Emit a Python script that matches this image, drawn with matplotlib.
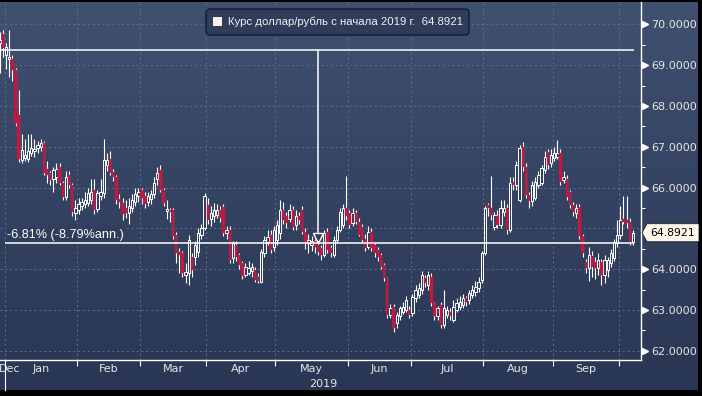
import numpy as np
import pandas as pd
import matplotlib
matplotlib.use('Agg')
import matplotlib.pyplot as plt
from matplotlib.colors import LinearSegmentedColormap
from matplotlib.patches import FancyBboxPatch, Rectangle, Polygon
import matplotlib.transforms as mtrans

# торговые дни (будни) с конца декабря 2018 по 7 октября 2019
dates = pd.bdate_range('2018-12-28', '2019-10-07')

opens = [
    69.55, 69.77, 69.25, 69.16, 69.16, 68.88, 67.78, 66.67, 66.72, 66.70,
    66.85, 66.90, 66.98, 67.00, 67.08, 66.45, 66.35, 66.22, 66.25, 66.50,
    66.10, 65.77, 66.30, 66.06, 65.38, 65.45, 65.55, 65.60, 65.62, 65.70,
    65.94, 65.48, 65.80, 65.86, 66.55, 66.70, 66.38, 66.26, 65.72, 65.61,
    65.50, 65.38, 65.50, 65.65, 65.80, 65.95, 65.80, 65.65, 65.72, 65.85,
    66.20, 66.43, 65.94, 65.42, 65.45, 65.45, 64.84, 64.43, 64.39, 63.86,
    63.90, 64.30, 64.30, 64.43, 64.84, 65.00, 65.57, 65.24, 65.29, 65.33,
    65.45, 65.53, 64.88, 64.96, 64.26, 64.59, 64.35, 64.14, 63.86, 63.90,
    63.95, 63.98, 63.80, 63.69, 64.39, 64.67, 64.84, 64.55, 64.71, 64.88,
    65.45, 65.29, 65.24, 65.45, 65.08, 65.29, 65.45, 64.92, 64.63, 64.60,
    64.70, 64.59, 64.51, 64.35, 64.92, 64.51, 64.35, 64.71, 64.96, 65.08,
    65.49, 65.37, 65.12, 65.37, 65.16, 65.04, 64.75, 64.55, 64.92, 64.59,
    64.47, 64.35, 64.10, 63.77, 62.88, 63.08, 62.67, 62.84, 62.96, 63.00,
    63.00, 62.92, 63.28, 63.37, 63.49, 63.77, 63.61, 63.81, 63.16, 62.84,
    63.12, 62.63, 62.88, 62.96, 62.75, 63.00, 63.08, 63.12, 63.28, 63.24,
    63.37, 63.45, 63.53, 63.73, 64.39, 65.57, 65.49, 65.04, 65.29, 65.08,
    65.41, 65.49, 64.96, 66.14, 66.06, 65.70, 67.00, 66.51, 65.82, 65.66,
    65.74, 66.06, 66.10, 66.43, 66.88, 66.59, 66.72, 66.76, 66.84, 66.18,
    66.22, 65.90, 65.57, 65.37, 65.53, 64.80, 64.18, 64.02, 64.31, 64.18,
    64.02, 64.18, 63.86, 63.98, 64.14, 64.26, 64.63, 64.84, 65.24, 65.20,
    65.16, 64.67,
]
highs = [
    69.80, 69.87, 69.55, 69.87, 69.25, 68.92, 68.40, 67.30, 67.20, 67.30,
    67.30, 67.20, 67.15, 67.20, 67.15, 66.65, 66.40, 66.50, 66.60, 66.60,
    66.15, 66.40, 66.40, 66.10, 65.70, 65.75, 65.75, 65.90, 66.00, 66.20,
    66.20, 65.95, 66.20, 67.20, 66.85, 66.90, 66.45, 66.30, 65.85, 65.75,
    65.70, 65.75, 65.85, 65.98, 66.00, 66.00, 65.90, 65.90, 65.95, 66.25,
    66.50, 66.55, 66.00, 65.69, 65.50, 65.50, 64.90, 64.51, 64.45, 64.14,
    64.84, 64.40, 64.70, 65.00, 65.10, 65.86, 65.75, 65.55, 65.63, 65.60,
    65.55, 65.60, 65.05, 65.05, 64.70, 64.70, 64.40, 64.20, 64.15, 64.20,
    64.15, 64.05, 63.90, 64.50, 64.80, 64.95, 64.95, 65.05, 65.20, 65.70,
    65.65, 65.40, 65.60, 65.55, 65.45, 65.40, 65.55, 65.00, 64.85, 64.80,
    64.75, 64.70, 64.60, 64.95, 65.00, 64.60, 64.80, 65.05, 65.50, 65.60,
    66.27, 65.45, 65.50, 65.45, 65.25, 65.10, 64.85, 65.05, 65.00, 64.65,
    64.55, 64.40, 64.15, 63.80, 63.15, 63.15, 62.95, 63.10, 63.20, 63.35,
    63.10, 63.40, 63.60, 63.65, 63.95, 63.85, 63.95, 63.90, 63.20, 63.10,
    63.20, 63.50, 63.10, 63.05, 63.25, 63.30, 63.35, 63.40, 63.35, 63.50,
    63.60, 63.70, 63.80, 64.45, 65.55, 65.62, 66.27, 65.40, 65.45, 65.70,
    65.70, 65.60, 66.25, 66.25, 66.65, 67.05, 67.12, 66.60, 65.90, 66.15,
    66.25, 66.40, 66.55, 66.90, 66.95, 66.95, 67.00, 67.16, 66.95, 66.40,
    66.30, 65.95, 65.65, 65.60, 65.60, 64.85, 64.25, 64.55, 64.45, 64.30,
    64.40, 64.25, 64.35, 64.30, 64.50, 64.75, 65.20, 65.55, 65.80, 65.80,
    65.25, 64.95,
]
lows = [
    68.80, 69.20, 68.90, 68.70, 68.60, 67.50, 66.62, 66.60, 66.65, 66.62,
    66.78, 66.75, 66.85, 66.90, 66.30, 66.10, 66.05, 65.90, 66.10, 66.05,
    65.70, 65.70, 66.00, 65.30, 65.20, 65.35, 65.45, 65.50, 65.55, 65.60,
    65.35, 65.40, 65.70, 65.75, 66.40, 66.30, 66.15, 65.60, 65.50, 65.20,
    65.25, 65.10, 65.40, 65.55, 65.65, 65.60, 65.50, 65.55, 65.60, 65.75,
    66.05, 65.90, 65.55, 65.24, 65.15, 64.75, 64.15, 63.90, 63.80, 63.65,
    63.61, 63.80, 64.10, 64.30, 64.75, 64.95, 65.10, 65.05, 65.15, 65.25,
    65.15, 64.80, 64.75, 64.15, 64.15, 64.20, 64.00, 63.75, 63.80, 63.85,
    63.80, 63.68, 63.65, 63.65, 64.30, 64.60, 64.40, 64.45, 64.60, 64.75,
    65.10, 65.00, 65.15, 64.95, 64.95, 65.10, 64.85, 64.50, 64.40, 64.45,
    64.40, 64.35, 64.22, 64.30, 64.40, 64.30, 64.30, 64.65, 64.90, 65.00,
    65.20, 65.00, 65.05, 65.10, 64.80, 64.65, 64.45, 64.50, 64.45, 64.30,
    64.20, 64.00, 63.70, 62.80, 62.80, 62.45, 62.55, 62.75, 62.90, 62.95,
    62.80, 62.85, 63.20, 63.30, 63.40, 63.55, 63.50, 63.10, 62.75, 62.75,
    62.55, 62.55, 62.80, 62.75, 62.70, 62.95, 63.00, 63.05, 63.10, 63.15,
    63.30, 63.35, 63.45, 63.65, 64.35, 65.30, 65.20, 64.95, 65.00, 65.00,
    65.30, 64.85, 64.90, 65.95, 65.95, 65.65, 66.40, 65.75, 65.50, 65.55,
    65.70, 66.00, 66.05, 66.35, 66.45, 66.50, 66.65, 66.70, 66.05, 66.10,
    65.70, 65.50, 65.30, 65.25, 64.75, 64.30, 63.90, 63.70, 63.80, 63.75,
    63.85, 63.60, 63.65, 63.80, 64.05, 64.20, 64.55, 64.75, 65.10, 65.00,
    64.60, 64.60,
]
closes = [
    69.62, 69.41, 69.44, 69.21, 68.88, 67.57, 66.71, 66.92, 66.80, 66.90,
    66.96, 66.95, 67.05, 67.08, 66.35, 66.30, 66.18, 66.43, 66.45, 66.10,
    65.77, 66.26, 66.06, 65.41, 65.49, 65.60, 65.65, 65.70, 65.86, 65.90,
    65.45, 65.86, 65.90, 66.67, 66.67, 66.35, 66.26, 65.69, 65.65, 65.36,
    65.38, 65.55, 65.70, 65.85, 65.90, 65.75, 65.60, 65.80, 65.85, 66.10,
    66.35, 65.94, 65.62, 65.48, 65.40, 64.80, 64.39, 64.35, 63.90, 63.94,
    64.71, 63.98, 64.59, 64.88, 65.00, 65.78, 65.20, 65.37, 65.45, 65.45,
    65.25, 64.88, 64.96, 64.22, 64.63, 64.30, 64.10, 63.82, 64.06, 64.02,
    64.05, 63.73, 63.70, 64.43, 64.71, 64.79, 64.47, 64.96, 65.08, 65.45,
    65.20, 65.12, 65.45, 65.04, 65.29, 65.20, 64.92, 64.63, 64.71, 64.70,
    64.55, 64.43, 64.35, 64.88, 64.47, 64.39, 64.71, 64.96, 65.41, 65.49,
    65.29, 65.08, 65.37, 65.16, 64.84, 64.71, 64.51, 64.92, 64.51, 64.39,
    64.30, 64.06, 63.77, 62.88, 63.04, 62.55, 62.88, 63.04, 63.08, 63.24,
    62.88, 63.32, 63.49, 63.53, 63.85, 63.65, 63.85, 63.16, 62.84, 63.04,
    62.63, 63.04, 63.00, 62.84, 63.08, 63.16, 63.20, 63.28, 63.20, 63.41,
    63.49, 63.57, 63.69, 64.39, 65.49, 65.49, 65.33, 65.33, 65.08, 65.49,
    65.49, 64.96, 66.10, 66.06, 66.55, 66.96, 66.51, 65.82, 65.66, 66.06,
    66.14, 66.31, 66.47, 66.76, 66.55, 66.80, 66.84, 66.84, 66.14, 66.26,
    65.77, 65.57, 65.41, 65.49, 64.80, 64.39, 64.02, 64.35, 64.06, 64.02,
    64.22, 63.86, 64.22, 64.22, 64.39, 64.67, 64.84, 65.20, 65.16, 65.12,
    64.67, 64.8921,
]

month_names = ['Dec', 'Jan', 'Feb', 'Mar', 'Apr', 'May', 'Jun', 'Jul', 'Aug', 'Sep']
y_ticks = [62, 63, 64, 65, 66, 67, 68, 69, 70]
start_level = 69.37   # уровень начала измерения
end_level = 64.645    # уровень конца измерения
change_label = '-6.81% (-8.79%ann.)'
legend_label = 'Курс доллар/рубль с начала 2019 г.  64.8921'
last_label = '64.8921'

W, H = 702, 396
plt.rcParams['font.family'] = ['DejaVu Sans']
fig = plt.figure(figsize=(W / 100, H / 100), dpi=100, facecolor='black')


def fit_width(t, px):
    # подогнать размер шрифта под ширину текста в пикселях
    fig.canvas.draw()
    w = t.get_window_extent().width
    t.set_fontsize(t.get_fontsize() * px / w)


# фон - градиент
bg = fig.add_axes([0, 6 / H, 698 / W, 1 - 8 / H])
grad = np.linspace(0, 1, 256).reshape(-1, 1)
cmap = LinearSegmentedColormap.from_list('bg', ['#293654', '#40506f'])
bg.imshow(grad, aspect='auto', cmap=cmap, origin='lower', extent=[0, 1, 0, 1])
bg.axis('off')

ax = fig.add_axes([0, 36 / H, 641 / W, 358 / H])
ax.patch.set_alpha(0)

n = len(closes)
x = np.arange(n)
o = np.array(opens)
c = np.array(closes)
up = c >= o

ax.set_xlim(0.07, 203.56)
ax.set_ylim(61.772, 70.547)

# фитили
ax.vlines(x, lows, highs, color='white', lw=0.8, zorder=3)
# тела свечей
body_lo = np.minimum(o, c)
body_h = np.maximum(np.abs(c - o), 0.03)
ax.bar(x[up], body_h[up], bottom=body_lo[up], width=0.75,
       color='#33415f', edgecolor='white', lw=0.7, zorder=4)
ax.bar(x[~up], body_h[~up], bottom=body_lo[~up], width=0.75,
       color='#c3173f', edgecolor='#c3173f', lw=0.3, zorder=4)

# месяцы
month_idx = pd.Series(np.arange(n), index=dates).groupby(dates.to_period('M')).min()
bounds = [i - 0.5 for i in month_idx.values[1:]]
mids = [(bounds[k] + bounds[k + 1]) / 2 for k in range(len(bounds) - 1)]
label_pos = [3.0] + mids[:len(month_names) - 1]

ax.set_xticks(bounds)
ax.set_xticklabels([])
ax.set_xticks(label_pos, minor=True)
ax.set_xticklabels(month_names, minor=True)
ax.tick_params(axis='x', which='major', length=4, color='white', width=0.8)
ax.tick_params(axis='x', which='minor', length=0, pad=3, labelsize=8, labelcolor='#e6e6e6')

# метка 65 закрыта ярлыком последнего значения
ax.yaxis.tick_right()
ax.set_yticks(y_ticks)
ax.set_yticklabels(['' if abs(v - closes[-1]) < 0.3 else '%.4f' % v for v in y_ticks])
ax.set_yticks(np.arange(62.5, 70.5, 1.0), minor=True)
ax.tick_params(axis='y', which='major', length=0, pad=7.5, labelsize=8, labelcolor='#e6e6e6')
ax.tick_params(axis='y', which='minor', length=3, color='white', width=0.8)

ax.grid(True, which='major', color='#5d7092', lw=0.7, ls=(0, (2, 3)))

for s in ['left', 'top']:
    ax.spines[s].set_visible(False)
for s in ['right', 'bottom']:
    ax.spines[s].set_color('white')
    ax.spines[s].set_linewidth(1.0)

# треугольные отметки на правой оси
tr = mtrans.blended_transform_factory(ax.transAxes, ax.transData)
tri_ticks = [v for v in y_ticks if abs(v - closes[-1]) >= 0.3]
ax.plot(np.full(len(tri_ticks), 1 + 3.5 / 641), tri_ticks, ls='none', marker='>',
        ms=4, color='white', transform=tr, clip_on=False)

# граница года и подпись 2019
trx = mtrans.blended_transform_factory(ax.transData, ax.transAxes)
ax.plot([bounds[0], bounds[0]], [0, -30 / 358], color='white', lw=0.8,
        transform=trx, clip_on=False)
ax.text((bounds[0] + ax.get_xlim()[1]) / 2, -24 / 358, '2019', transform=trx,
        ha='center', va='center', fontsize=8, color='#e6e6e6')

# инструмент измерения
x_end = n - 1 + 0.3
x_mid = 101
ax.hlines(start_level, ax.get_xlim()[0], x_end, color='white', lw=1.1, zorder=5)
ax.hlines(end_level, 1.6, x_end, color='white', lw=1.1, zorder=5)
ax.vlines(x_mid, end_level + 0.23, start_level, color='white', lw=1.1, zorder=5)
ax.plot(x_mid, end_level + 0.115, marker='v', ms=7.5, mfc='none', mec='white',
        mew=1.0, zorder=6)
chg = ax.text(2.2, end_level + 0.05, change_label, color='white', fontsize=8.5,
              family=['Liberation Sans', 'DejaVu Sans'],
              ha='left', va='bottom', zorder=6,
              bbox=dict(facecolor='#2f3d5b', edgecolor='none', pad=0.5))
fit_width(chg, 116)

# легенда
inch = fig.dpi_scale_trans
fig.patches.append(FancyBboxPatch((2.06, (H - 35) / 100), 2.63, 0.26,
                                  boxstyle='round,pad=0,rounding_size=0.04',
                                  facecolor='#2f3d5a', edgecolor='#121a2a', lw=1.0,
                                  transform=inch, figure=fig))
fig.patches.append(Rectangle((2.13, (H - 26) / 100), 0.09, 0.09,
                             facecolor='#fbeeee', edgecolor='none',
                             transform=inch, figure=fig))
leg = fig.text(2.28, (H - 21.5) / 100, legend_label, transform=inch, fontsize=8,
               family=['Liberation Sans', 'DejaVu Sans'],
               color='#f0f0f0', va='center', ha='left')
fit_width(leg, 235)

# метка последнего значения
fig.canvas.draw()
yc = ax.transData.transform((0, closes[-1]))[1] / 100
xa = 642.0 / 100
tag = Polygon([(xa, yc), (xa + 0.05, yc + 0.09), (6.99, yc + 0.09),
               (6.99, yc - 0.09), (xa + 0.05, yc - 0.09)], closed=True,
              facecolor='#fff7ea', edgecolor='#222222', lw=0.6,
              transform=inch, figure=fig)
fig.patches.append(tag)
lt = fig.text(6.505, yc, last_label, transform=inch, fontsize=8, color='black',
              va='center', ha='left')
fit_width(lt, 45)

fig.savefig('out.png', dpi=100, facecolor='black')
